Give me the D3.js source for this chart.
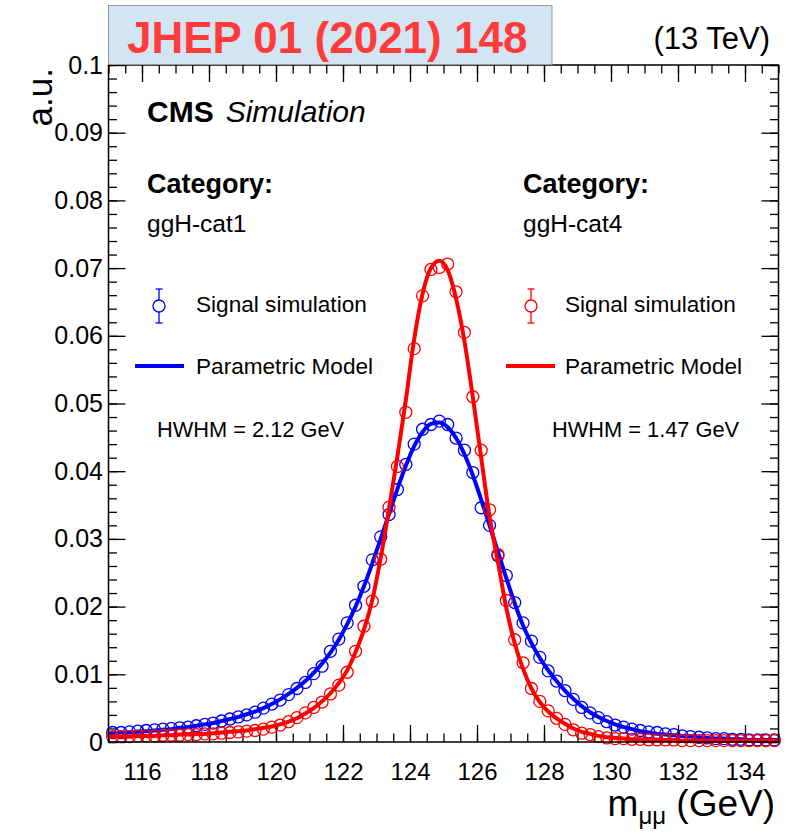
<!DOCTYPE html>
<html>
<head>
<meta charset="utf-8">
<script src="https://cdn.jsdelivr.net/npm/d3@7"></script>
<style>
  body { margin: 0; background: #fff; }
  svg { display: block; }
  text { font-family: "Liberation Sans", Arial, Helvetica, sans-serif; fill: #000; }
</style>
</head>
<body>
<svg id="chart" width="790" height="834"></svg>
<script>
// ---- data ---------------------------------------------------------------
const massDomain = [115, 135];
// 80 bins of 0.25 GeV between 115 and 135 GeV (bin centres)
const binCenters = d3.range(80).map(i => 115.125 + 0.25 * i);

// signal simulation, ggH-cat1
const cat1Sim = [
  .0014, .0014, .0015, .0016, .0017, .0018, .0019, .0020, .0021, .0022,
  .0024, .0026, .0028, .0031, .0034, .0037, .0040, .0044, .0050, .0056,
  .0062, .0070, .0079, .0088, .0101, .0112, .0134, .0152, .0176, .0202,
  .0230, .0269, .0303, .0336, .0373, .0410, .0440, .0462, .0469, .0474,
  .0469, .0449, .0431, .0398, .0346, .0320, .0275, .0246, .0206, .0176,
  .0149, .0125, .0105, .0090, .0076, .0063, .0051, .0043, .0036, .0030,
  .0025, .0022, .0019, .0017, .0015, .0014, .0012, .0011, .0009, .0008,
  .0007, .0006, .0005, .0005, .0004, .0004, .0003, .0003, .0003, .0003
];

// signal simulation, ggH-cat4
const cat4Sim = [
  .0008, .0008, .0008, .0009, .0009, .0009, .0010, .0010, .0010, .0011,
  .0011, .0012, .0012, .0013, .0014, .0015, .0016, .0017, .0019, .0022,
  .0025, .0030, .0036, .0043, .0051, .0059, .0071, .0084, .0103, .0134,
  .0171, .0208, .0270, .0347, .0407, .0487, .0581, .0659, .0698, .0701,
  .0706, .0665, .0605, .0510, .0431, .0343, .0277, .0209, .0151, .0117,
  .0079, .0060, .0046, .0035, .0026, .0018, .0013, .0011, .0008, .0006,
  .0005, .0005, .0004, .0004, .0003, .0003, .0003, .0003, .0002, .0002,
  .0002, .0002, .0002, .0002, .0002, .0002, .0002, .0002, .0002, .0002
];

// parametric model, sampled at the range edges and at every bin centre
const modelMass = [115, ...binCenters, 135];

const cat1Model = [
  .0013,
  .0013, .0014, .0014, .0015, .0016, .0017, .0018, .0019, .0021, .0022,
  .0024, .0026, .0028, .0031, .0034, .0037, .0041, .0045, .0050, .0056,
  .0063, .0071, .0080, .0090, .0102, .0116, .0132, .0151, .0174, .0200,
  .0230, .0264, .0300, .0337, .0374, .0408, .0437, .0458, .0470, .0472,
  .0465, .0449, .0425, .0394, .0358, .0320, .0281, .0242, .0205, .0172,
  .0146, .0124, .0106, .0090, .0076, .0064, .0053, .0044, .0037, .0031,
  .0026, .0022, .0019, .0016, .0014, .0012, .0011, .0010, .0009, .0008,
  .0007, .0006, .0005, .0005, .0004, .0004, .0003, .0003, .0003, .0003,
  .0003
];

const cat4Model = [
  .0008,
  .0008, .0008, .0008, .0009, .0009, .0009, .0010, .0010, .0011, .0011,
  .0012, .0012, .0013, .0014, .0015, .0016, .0017, .0019, .0021, .0023,
  .0026, .0030, .0035, .0042, .0050, .0060, .0072, .0087, .0106, .0133,
  .0166, .0210, .0272, .0345, .0422, .0505, .0595, .0662, .0700, .0711,
  .0697, .0655, .0592, .0510, .0420, .0333, .0266, .0198, .0146, .0108,
  .0079, .0059, .0045, .0035, .0027, .0020, .0015, .0012, .0009, .0007,
  .0006, .0005, .0004, .0004, .0003, .0003, .0003, .0003, .0002, .0002,
  .0002, .0002, .0002, .0002, .0002, .0002, .0002, .0002, .0002, .0002,
  .0002
];

const xTicks = [116, 118, 120, 122, 124, 126, 128, 130, 132, 134];
const xMinorTicks = d3.range(115, 135.01, 0.5);
const yTicks = [0, 0.01, 0.02, 0.03, 0.04, 0.05, 0.06, 0.07, 0.08, 0.09, 0.1];
const yTickLabels = ["0", "0.01", "0.02", "0.03", "0.04", "0.05", "0.06", "0.07", "0.08", "0.09", "0.1"];
const yMinorTicks = d3.range(0, 0.1001, 0.002);

const hwhm = { cat1: "2.12", cat4: "1.47" };

// ---- layout -------------------------------------------------------------
const frame = { left: 108.5, right: 778.5, top: 65, bottom: 742 };
const blue = "#0000ff", red = "#ff0000";

const svg = d3.select("#chart");
const x = d3.scaleLinear().domain(massDomain).range([frame.left, frame.right]);
const y = d3.scaleLinear().domain([0, 0.1]).range([frame.bottom, frame.top]);

// ---- axes (ticks point inwards on all four sides) -----------------------
function styleAxis(size) {
  return g => {
    g.select(".domain").remove();
    g.selectAll(".tick line").attr("stroke", "#000").attr("stroke-width", 1.3);
    g.selectAll(".tick text").attr("font-size", size)
      .attr("font-family", "'Liberation Sans', Arial, Helvetica, sans-serif")
      .attr("fill", "#000");
  };
}
const MAJ = 17, MIN = 8.5;

svg.append("g").attr("transform", `translate(0,${frame.bottom})`)
  .call(d3.axisBottom(x).tickValues(xMinorTicks).tickSizeInner(-MIN).tickSizeOuter(0).tickFormat(""))
  .call(styleAxis(24));
svg.append("g").attr("transform", `translate(0,${frame.bottom})`)
  .call(d3.axisBottom(x).tickValues(xTicks).tickSizeInner(-MAJ).tickSizeOuter(0).tickPadding(21).tickFormat(d3.format("d")))
  .call(styleAxis(24));
svg.append("g").attr("transform", `translate(0,${frame.top})`)
  .call(d3.axisTop(x).tickValues(xMinorTicks).tickSizeInner(-MIN).tickSizeOuter(0).tickFormat(""))
  .call(styleAxis(24));
svg.append("g").attr("transform", `translate(0,${frame.top})`)
  .call(d3.axisTop(x).tickValues(xTicks).tickSizeInner(-MAJ).tickSizeOuter(0).tickFormat(""))
  .call(styleAxis(24));

svg.append("g").attr("transform", `translate(${frame.left},0)`)
  .call(d3.axisLeft(y).tickValues(yMinorTicks).tickSizeInner(-MIN).tickSizeOuter(0).tickFormat(""))
  .call(styleAxis(25));
svg.append("g").attr("transform", `translate(${frame.left},0)`)
  .call(d3.axisLeft(y).tickValues(yTicks).tickSizeInner(-MAJ).tickSizeOuter(0).tickPadding(5.5)
    .tickFormat((d, i) => yTickLabels[i]))
  .call(styleAxis(25));
svg.append("g").attr("transform", `translate(${frame.right},0)`)
  .call(d3.axisRight(y).tickValues(yMinorTicks).tickSizeInner(-MIN).tickSizeOuter(0).tickFormat(""))
  .call(styleAxis(25));
svg.append("g").attr("transform", `translate(${frame.right},0)`)
  .call(d3.axisRight(y).tickValues(yTicks).tickSizeInner(-MAJ).tickSizeOuter(0).tickFormat(""))
  .call(styleAxis(25));

// ---- series -------------------------------------------------------------
const plot = svg.append("g");
const line = d3.line().x(d => x(d[0])).y(d => y(d[1])).curve(d3.curveMonotoneX);

function drawSeries(sim, model, color) {
  plot.append("g").selectAll("circle")
    .data(binCenters.map((m, i) => [m, sim[i]]))
    .join("circle")
    .attr("cx", d => x(d[0])).attr("cy", d => y(d[1])).attr("r", 6)
    .attr("fill", "none").attr("stroke", color).attr("stroke-width", 1.3);
  plot.append("path")
    .datum(modelMass.map((m, i) => [m, model[i]]))
    .attr("d", line)
    .attr("fill", "none").attr("stroke", color).attr("stroke-width", 4)
    .attr("stroke-linejoin", "round");
}
drawSeries(cat1Sim, cat1Model, blue);
drawSeries(cat4Sim, cat4Model, red);

// ---- frame --------------------------------------------------------------
svg.append("rect")
  .attr("x", frame.left).attr("y", frame.top)
  .attr("width", frame.right - frame.left).attr("height", frame.bottom - frame.top)
  .attr("fill", "none").attr("stroke", "#000").attr("stroke-width", 1.5);

// ---- texts --------------------------------------------------------------
const cms = svg.append("text").attr("x", 147).attr("y", 122).attr("font-size", 30);
cms.append("tspan").attr("font-weight", "bold").text("CMS");
cms.append("tspan").attr("font-style", "italic").attr("dx", 12).text("Simulation");

function categoryBlock(cx, name) {
  svg.append("text").attr("x", cx).attr("y", 193).attr("font-size", 27)
    .attr("font-weight", "bold").text("Category:");
  svg.append("text").attr("x", cx).attr("y", 232).attr("font-size", 24.5).text(name);
}
categoryBlock(147, "ggH-cat1");
categoryBlock(523, "ggH-cat4");

function legendBlock(markerX, lineX0, lineX1, textX, hwhmX, color, width) {
  const my = 306;
  const g = svg.append("g").attr("stroke", color).attr("fill", "none").attr("stroke-width", 1.3);
  g.append("circle").attr("cx", markerX).attr("cy", my).attr("r", 6);
  g.append("line").attr("x1", markerX).attr("x2", markerX).attr("y1", my - 17).attr("y2", my - 6);
  g.append("line").attr("x1", markerX).attr("x2", markerX).attr("y1", my + 6).attr("y2", my + 17);
  g.append("line").attr("x1", markerX - 3.5).attr("x2", markerX + 3.5).attr("y1", my - 17).attr("y2", my - 17);
  g.append("line").attr("x1", markerX - 3.5).attr("x2", markerX + 3.5).attr("y1", my + 17).attr("y2", my + 17);
  svg.append("text").attr("x", textX).attr("y", 312).attr("font-size", 22.6).text("Signal simulation");

  svg.append("line").attr("x1", lineX0).attr("x2", lineX1).attr("y1", 366).attr("y2", 366)
    .attr("stroke", color).attr("stroke-width", 4);
  svg.append("text").attr("x", textX).attr("y", 374).attr("font-size", 22.6).text("Parametric Model");

  svg.append("text").attr("x", hwhmX).attr("y", 437).attr("font-size", 21.8)
    .text(`HWHM = ${width} GeV`);
}
legendBlock(159, 135, 184, 196, 157, blue, hwhm.cat1);
legendBlock(531, 506, 555, 565, 552, red, hwhm.cat4);

// axis titles
svg.append("text").attr("transform", "translate(52,68) rotate(-90)")
  .attr("text-anchor", "end").attr("font-size", 35).text("a.u.");

const xt = svg.append("text").attr("x", 775).attr("y", 816)
  .attr("text-anchor", "end").attr("font-size", 37);
xt.append("tspan").text("m");
xt.append("tspan").attr("font-size", 24).attr("dy", 8).text("μμ");
xt.append("tspan").attr("dy", -8).text(" (GeV)");

svg.append("text").attr("x", 770).attr("y", 49).attr("text-anchor", "end")
  .attr("font-size", 31).text("(13 TeV)");

// journal banner
svg.append("rect").attr("x", 108.5).attr("y", 5.5).attr("width", 443.5).attr("height", 59)
  .attr("fill", "#d2e5f2").attr("stroke", "#9a9a9a").attr("stroke-width", 1);
svg.append("text").attr("x", 127).attr("y", 53).attr("font-size", 44)
  .attr("font-weight", "bold").style("fill", "#ff3b3b")
  .text("JHEP 01 (2021) 148");
</script>
</body>
</html>
